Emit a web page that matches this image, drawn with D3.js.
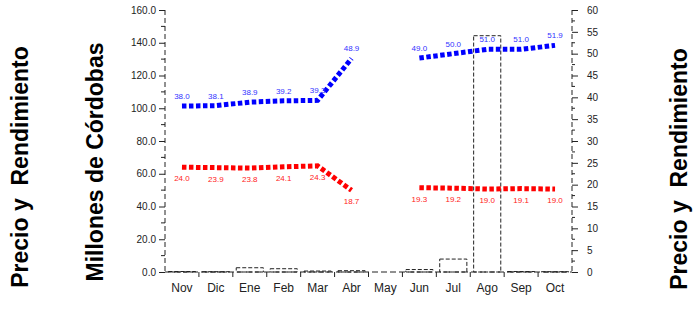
<!DOCTYPE html>
<html>
<head>
<meta charset="utf-8">
<script src="https://cdn.jsdelivr.net/npm/d3@7"></script>
<style>
  body { margin: 0; background: #fff; }
  text { font-family: Arial, "Liberation Sans", sans-serif; }
</style>
</head>
<body>
<div id="chart"></div>
<script>
const months = ["Nov", "Dic", "Ene", "Feb", "Mar", "Abr", "May", "Jun", "Jul", "Ago", "Sep", "Oct"];
// millones de cordobas (left axis, dashed bars)
const millones = [0.3, 0.2, 2.6, 2.0, 0.6, 0.8, 0, 1.5, 7.9, 144.3, 0.3, 0.2];
// rendimiento (right axis, blue) and precio (right axis, red)
const rendimiento = [38.0, 38.1, 38.9, 39.2, 39.3, 48.9, null, 49.0, 50.0, 51.0, 51.0, 51.9];
const precio = [24.0, 23.9, 23.8, 24.1, 24.3, 18.7, null, 19.3, 19.2, 19.0, 19.1, 19.0];
const leftTicks = [0, 20, 40, 60, 80, 100, 120, 140, 160];
const rightTicks = [0, 5, 10, 15, 20, 25, 30, 35, 40, 45, 50, 55, 60];

const W = 694, H = 319;
const margin = { top: 10, right: 122, bottom: 47, left: 165 };
const width = W - margin.left - margin.right;
const height = H - margin.top - margin.bottom;

const svg = d3.select("#chart").append("svg")
  .attr("width", W).attr("height", H);

// axis titles
svg.append("text")
  .attr("transform", `translate(28, ${167}) rotate(-90)`)
  .attr("text-anchor", "middle")
  .style("font-size", "23px").style("font-weight", "bold")
  .style("white-space", "pre").attr("xml:space", "preserve")
  .text("Precio y  Rendimiento");
svg.append("text")
  .attr("transform", `translate(103, ${162}) rotate(-90)`)
  .attr("text-anchor", "middle")
  .style("font-size", "23px").style("font-weight", "bold")
  .text("Millones de Córdobas");
svg.append("text")
  .attr("transform", `translate(687, ${169}) rotate(-90)`)
  .attr("text-anchor", "middle")
  .style("font-size", "23px").style("font-weight", "bold")
  .style("white-space", "pre").attr("xml:space", "preserve")
  .text("Precio y  Rendimiento");

const g = svg.append("g")
  .attr("transform", "translate(" + margin.left + "," + margin.top + ")");

const x = d3.scaleBand().domain(months).range([0, width]).paddingInner(0.2).paddingOuter(0.1);
const xb = d3.scaleBand().domain(months).range([0, width]);
const yL = d3.scaleLinear().domain([0, 160]).range([height, 0]);
const yR = d3.scaleLinear().domain([0, 60]).range([height, 0]);

// bars (dashed outlines)
g.selectAll("rect.bar")
  .data(months)
  .enter().append("rect")
  .attr("class", "bar")
  .attr("x", (d) => x(d))
  .attr("width", x.bandwidth())
  .attr("y", (d, i) => yL(millones[i]))
  .attr("height", (d, i) => height - yL(millones[i]))
  .attr("fill", "none")
  .attr("stroke", "#222")
  .attr("stroke-width", 1)
  .attr("stroke-dasharray", "4,2");

// left axis
const axL = g.append("g");
axL.append("line")
  .attr("x1", 0).attr("x2", 0).attr("y1", 0).attr("y2", height)
  .attr("stroke", "#222").attr("stroke-dasharray", "5,3");
axL.call(d3.axisLeft(yL).tickValues(leftTicks).tickFormat(d3.format(".1f")).tickSize(6).tickPadding(3));
axL.selectAll(".tick line").attr("stroke", "#222");
axL.select(".domain").remove();
axL.selectAll(".tick text").style("font-size", "10px").attr("fill", "#222")
  .style("font-family", "Arial, 'Liberation Sans', sans-serif");
axL.selectAll("line.minor")
  .data(d3.range(10, 160, 20))
  .enter().append("line").attr("class", "minor")
  .attr("x1", -4).attr("x2", 0)
  .attr("y1", (d) => yL(d)).attr("y2", (d) => yL(d))
  .attr("stroke", "#222");

// right axis
const axR = g.append("g").attr("transform", `translate(${width},0)`);
axR.append("line")
  .attr("x1", 0).attr("x2", 0).attr("y1", 0).attr("y2", height)
  .attr("stroke", "#222").attr("stroke-dasharray", "5,3");
axR.call(d3.axisRight(yR).tickValues(rightTicks).tickSize(6).tickPadding(9));
axR.selectAll(".tick line").attr("stroke", "#222");
axR.select(".domain").remove();
axR.selectAll(".tick text").style("font-size", "10px").attr("fill", "#222")
  .style("font-family", "Arial, 'Liberation Sans', sans-serif");
axR.selectAll("line.minor")
  .data(d3.range(2.5, 60, 5))
  .enter().append("line").attr("class", "minor")
  .attr("x1", 0).attr("x2", 3)
  .attr("y1", (d) => yR(d)).attr("y2", (d) => yR(d))
  .attr("stroke", "#222");

// bottom axis
const axB = g.append("g").attr("transform", `translate(0,${height})`);
axB.append("line")
  .attr("x1", 0).attr("x2", width).attr("y1", 0).attr("y2", 0)
  .attr("stroke", "#222").attr("stroke-dasharray", "6,3");
axB.selectAll("line.tk")
  .data(months.slice(1))
  .enter().append("line").attr("class", "tk")
  .attr("x1", (d) => xb(d)).attr("x2", (d) => xb(d))
  .attr("y1", 0).attr("y2", 5)
  .attr("stroke", "#222");
axB.selectAll("text")
  .data(months)
  .enter().append("text")
  .attr("x", (d) => xb(d) + xb.bandwidth() / 2)
  .attr("y", 20)
  .attr("text-anchor", "middle")
  .style("font-size", "12px")
  .attr("fill", "#222")
  .text((d) => d);

// lines
const cx = (i) => xb(months[i]) + xb.bandwidth() / 2;
const line = d3.line()
  .defined((d) => d != null)
  .x((d, i) => cx(i))
  .y((d) => yR(d));

function drawSeries(values, color, labelColor, dy) {
  g.append("path")
    .datum(values)
    .attr("d", line)
    .attr("fill", "none")
    .attr("stroke", color)
    .attr("stroke-width", 5)
    .attr("stroke-dasharray", "4.5,2.5");
  g.selectAll(null)
    .data(values.map((v, i) => ({ v, i })).filter((d) => d.v != null))
    .enter().append("text")
    .attr("x", (d) => cx(d.i))
    .attr("y", (d) => yR(d.v) + dy)
    .attr("text-anchor", "middle")
    .style("font-size", "8px")
    .attr("fill", labelColor)
    .text((d) => d.v.toFixed(1));
}

drawSeries(rendimiento, "#0000ff", "#3333ff", -7);
drawSeries(precio, "#ff0000", "#ff2222", 14);
</script>
</body>
</html>
